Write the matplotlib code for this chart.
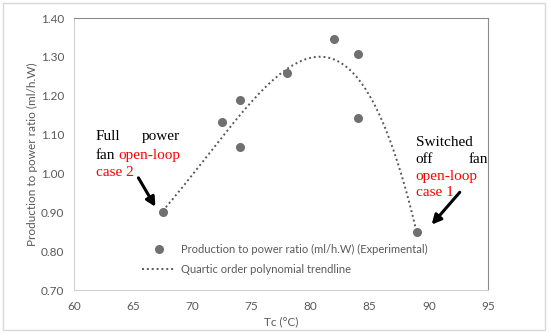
import numpy as np
import matplotlib
matplotlib.use("Agg")
import matplotlib.pyplot as plt
from matplotlib.patches import Rectangle

# measured points (Tc, production/power ratio)
tc = [67.5, 72.5, 74.0, 74.0, 78.0, 82.0, 84.0, 84.0, 89.0]
ratio = [0.90, 1.132, 1.189, 1.068, 1.258, 1.346, 1.307, 1.142, 0.849]

xticks = [60, 65, 70, 75, 80, 85, 90, 95]
yticks = [0.70, 0.80, 0.90, 1.00, 1.10, 1.20, 1.30, 1.40]

gray_txt = '#595959'
dot_col = '#707070'

plt.rcParams['font.family'] = ['Lato', 'DejaVu Sans']

fig = plt.figure(figsize=(5.5, 3.33), dpi=100)
ax = fig.add_axes([0.1345, 0.129, 0.7527, 0.8168])

# outer chart border
fig.patches.append(Rectangle((0.005, 0.01), 0.985, 0.98, transform=fig.transFigure,
                             fill=False, edgecolor='#d9d9d9', lw=1))

# quartic trendline (least squares, like the spreadsheet trendline)
coef = np.polyfit(tc, ratio, 4)
xs = np.linspace(min(tc), max(tc), 200)
ax.plot(xs, np.polyval(coef, xs), linestyle=(0, (1, 1.5)), color=gray_txt, lw=1.4,
        label='Quartic order polynomial trendline')
ax.plot(tc, ratio, 'o', color=dot_col, ms=5.5, linestyle='none',
        label='Production to power ratio (ml/h.W) (Experimental)')

ax.set_xlim(60, 95)
ax.set_ylim(0.70, 1.40)
ax.set_xticks(xticks)
ax.set_yticks(yticks)
ax.set_yticklabels(['%.2f' % v for v in yticks])
ax.tick_params(length=0, colors=gray_txt, labelsize=8.5, pad=7)
ax.tick_params(axis='x', pad=8)
for s in ['left', 'bottom']:
    ax.spines[s].set_color('#d0d0d0')
for s in ['top', 'right']:
    ax.spines[s].set_color('#8a8a8a')
ax.set_xlabel('Tc (°C)', color=gray_txt, fontsize=8.5, labelpad=3)
ax.set_ylabel('Production to power ratio (ml/h.W)', color=gray_txt, fontsize=8.5, labelpad=2)

h, l = ax.get_legend_handles_labels()
ax.legend(h[::-1], l[::-1], loc='upper left', bbox_to_anchor=(0.14, 0.205), frameon=False,
          fontsize=8, labelcolor=gray_txt, handlelength=3, handletextpad=0.5,
          labelspacing=0.75)

serif = dict(family='Liberation Serif', fontsize=11, va='center')
# left note, justified
ax.text(61.86, 1.094, 'Full', ha='left', color='black', **serif)
ax.text(68.96, 1.094, 'power', ha='right', color='black', **serif)
ax.text(61.86, 1.047, 'fan', ha='left', color='black', **serif)
ax.text(68.96, 1.047, 'open-loop', ha='right', color='red', **serif)
ax.text(61.86, 1.002, 'case 2', ha='left', color='red', **serif)
# right note
ax.text(88.88, 1.081, 'Switched', ha='left', color='black', **serif)
ax.text(88.88, 1.035, 'off', ha='left', color='black', **serif)
ax.text(94.97, 1.035, 'fan', ha='right', color='black', **serif)
ax.text(88.88, 0.991, 'open-loop', ha='left', color='red', **serif)
ax.text(88.88, 0.950, 'case 1', ha='left', color='red', **serif)

arrow = dict(arrowstyle='-|>,head_length=0.55,head_width=0.28', color='black', lw=2.2)
ax.annotate('', xy=(67.0, 0.908), xytext=(65.33, 0.995), arrowprops=arrow)
ax.annotate('', xy=(90.09, 0.863), xytext=(92.77, 0.957), arrowprops=arrow)

fig.savefig('out.png', dpi=100)
